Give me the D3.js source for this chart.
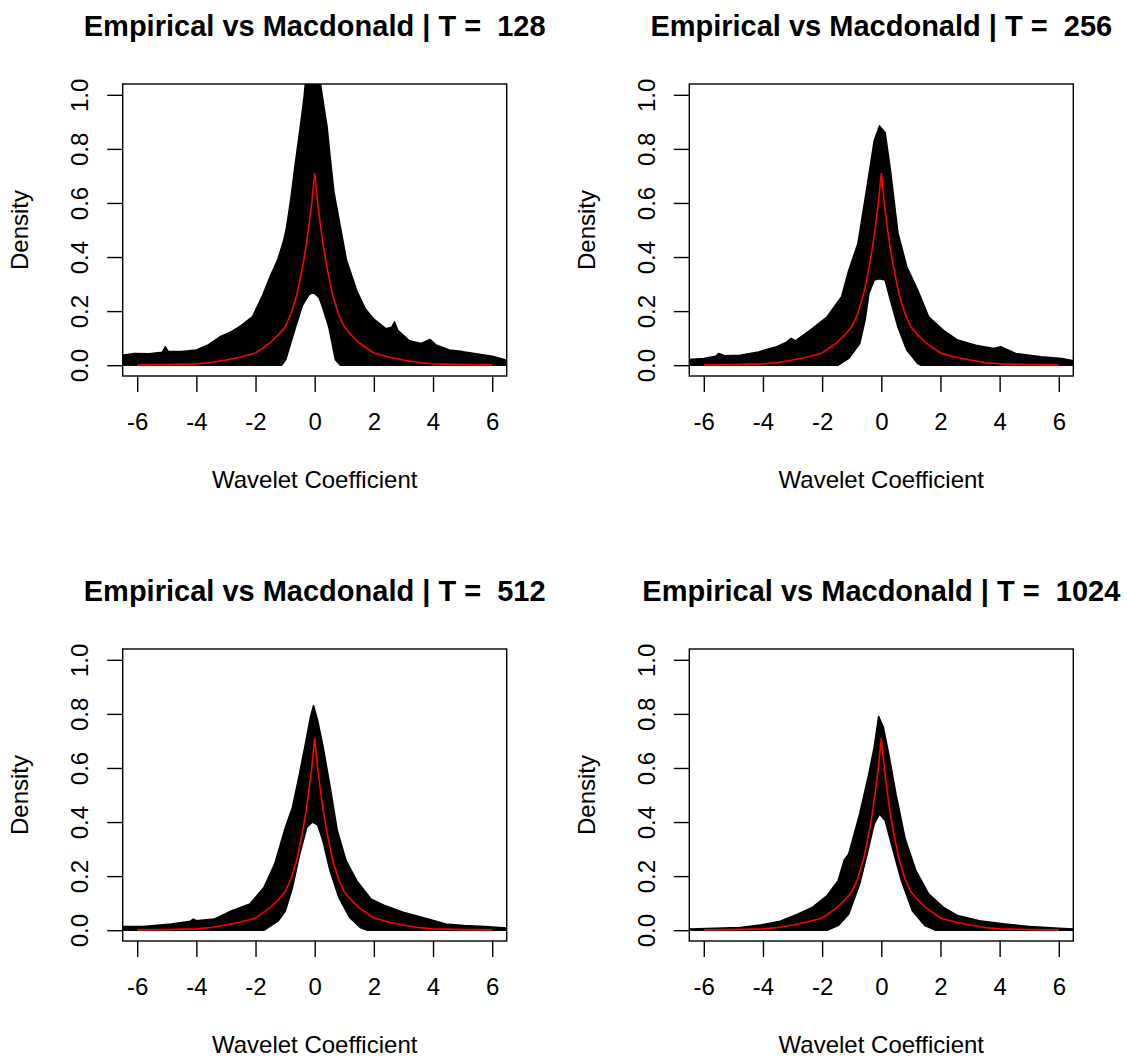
<!DOCTYPE html>
<html>
<head>
<meta charset="utf-8">
<script src="https://cdn.jsdelivr.net/npm/d3@7"></script>
<style>
  html, body { margin: 0; padding: 0; background: #fff; }
  svg { display: block; font-family: "Liberation Sans", Arial, sans-serif; }
</style>
</head>
<body>
<svg id="chart" width="1127" height="1060"></svg>
<script>
// ---------------- data ----------------
const sampleSizes = [128, 256, 512, 1024];
const xTicks = [-6, -4, -2, 0, 2, 4, 6];
const yTicks = [0, 0.2, 0.4, 0.6, 0.8, 1.0];
const xLabel = "Wavelet Coefficient";
const yLabel = "Density";

// Macdonald (theoretical) density, red curve
const macdonald = [
  [-6, 0.001], [-5, 0.002], [-4, 0.005], [-3.5, 0.01], [-3, 0.019], [-2.5, 0.03],
  [-2, 0.045], [-1.5, 0.083], [-1.25, 0.11], [-1, 0.142], [-0.8, 0.19], [-0.6, 0.262],
  [-0.4, 0.37], [-0.3, 0.435], [-0.2, 0.512], [-0.1, 0.6], [0, 0.71],
  [0.1, 0.6], [0.2, 0.512], [0.3, 0.435], [0.4, 0.37], [0.6, 0.262], [0.8, 0.19],
  [1, 0.142], [1.25, 0.11], [1.5, 0.083], [2, 0.045], [2.5, 0.03], [3, 0.019],
  [3.5, 0.01], [4, 0.005], [5, 0.002], [6, 0.001]
];

// Upper / lower envelopes of the bundle of empirical densities
const upper128 = [[-6.49,0.037],[-6.1,0.043],[-5.6,0.042],[-5.15,0.048],[-5.05,0.068],[-4.95,0.05],[-4.5,0.05],[-4.0,0.056],[-3.6,0.075],[-3.2,0.105],[-2.8,0.125],[-2.5,0.145],[-2.1,0.18],[-1.75,0.26],[-1.5,0.33],[-1.25,0.39],[-1.05,0.46],[-0.95,0.51],[-0.8,0.62],[-0.65,0.75],[-0.5,0.87],[-0.36,0.99],[-0.3,1.06],[0.17,1.06],[0.25,1.0],[0.42,0.88],[0.53,0.76],[0.65,0.64],[0.87,0.51],[1.07,0.39],[1.44,0.27],[1.7,0.21],[2.0,0.17],[2.4,0.135],[2.6,0.14],[2.7,0.16],[2.8,0.13],[3.2,0.09],[3.6,0.08],[3.9,0.095],[4.1,0.075],[4.55,0.056],[5.0,0.05],[5.4,0.043],[6.0,0.033],[6.49,0.018]];
const lower128 = [[-1.12,0],[-0.98,0.02],[-0.65,0.14],[-0.42,0.22],[-0.2,0.26],[-0.05,0.27],[0.15,0.25],[0.25,0.22],[0.48,0.14],[0.7,0.02],[0.87,0]];

const upper256 = [[-6.5,0.021],[-6.0,0.025],[-5.6,0.033],[-5.5,0.043],[-5.3,0.035],[-4.77,0.037],[-4.15,0.049],[-3.54,0.068],[-3.2,0.085],[-3.05,0.099],[-2.9,0.09],[-2.32,0.136],[-1.83,0.179],[-1.34,0.253],[-1.1,0.35],[-0.79,0.45],[-0.48,0.66],[-0.24,0.83],[-0.06,0.885],[0.13,0.86],[0.31,0.72],[0.56,0.49],[0.86,0.364],[1.23,0.278],[1.6,0.179],[2.09,0.13],[2.58,0.093],[3.19,0.074],[3.8,0.062],[4.04,0.068],[4.3,0.055],[4.54,0.043],[5.4,0.031],[6.1,0.025],[6.5,0.016]];
const lower256 = [[-1.46,0],[-1.1,0.025],[-0.73,0.08],[-0.55,0.167],[-0.42,0.265],[-0.24,0.315],[-0.06,0.32],[0.13,0.315],[0.31,0.24],[0.56,0.142],[0.86,0.056],[1.23,0.006],[1.35,0]];

const upper512 = [[-6.49,0.013],[-5.8,0.013],[-4.84,0.023],[-4.2,0.033],[-4.1,0.041],[-4.0,0.035],[-3.4,0.041],[-2.8,0.072],[-2.19,0.097],[-1.71,0.159],[-1.35,0.245],[-0.99,0.38],[-0.75,0.455],[-0.51,0.58],[-0.33,0.68],[-0.14,0.79],[-0.04,0.83],[0.1,0.775],[0.28,0.68],[0.52,0.53],[0.76,0.37],[1.06,0.257],[1.42,0.183],[1.9,0.115],[2.39,0.09],[2.99,0.066],[3.83,0.041],[4.43,0.023],[5.04,0.017],[5.76,0.013],[6.49,0.008]];
const lower512 = [[-1.71,0],[-1.23,0.035],[-0.99,0.072],[-0.75,0.159],[-0.51,0.28],[-0.27,0.38],[-0.08,0.40],[0.1,0.39],[0.28,0.33],[0.52,0.22],[0.82,0.12],[1.18,0.047],[1.54,0.01],[1.78,0]];

const upper1024 = [[-6.5,0.004],[-4.77,0.01],[-4.03,0.02],[-3.42,0.033],[-2.81,0.06],[-2.32,0.085],[-1.83,0.128],[-1.46,0.183],[-1.25,0.26],[-1.1,0.282],[-0.73,0.43],[-0.42,0.578],[-0.24,0.677],[-0.09,0.79],[0.07,0.75],[0.25,0.652],[0.5,0.5],[0.8,0.34],[1.17,0.22],[1.6,0.134],[2.09,0.085],[2.58,0.054],[3.31,0.035],[4.17,0.023],[5.02,0.013],[6.0,0.007],[6.5,0.004]];
const lower1024 = [[-1.83,0],[-1.46,0.017],[-1.1,0.06],[-0.73,0.171],[-0.48,0.282],[-0.24,0.393],[-0.06,0.43],[0.13,0.406],[0.37,0.307],[0.68,0.183],[1.05,0.072],[1.47,0.017],[1.84,0]];

const uppers = [upper128, upper256, upper512, upper1024];
const lowers = [lower128, lower256, lower512, lower1024];

// ---------------- layout ----------------
const boxLefts = [122.7, 689.3];
const boxTops = [84, 649];
const boxW = 384, boxH = 292;
const xDomain = [-6.49, 6.49];
const yDomain = [-0.04, 1.04];

const svg = d3.select("#chart");
svg.append("rect").attr("width", 1127).attr("height", 1060).attr("fill", "#fff");

sampleSizes.forEach((T, i) => {
  const col = i % 2, row = Math.floor(i / 2);
  const L = boxLefts[col], Tp = boxTops[row];
  const x = d3.scaleLinear().domain(xDomain).range([L, L + boxW]);
  const y = d3.scaleLinear().domain(yDomain).range([Tp + boxH, Tp]);
  const g = svg.append("g");

  const clipId = "clip" + i;
  svg.append("defs").append("clipPath").attr("id", clipId)
    .append("rect").attr("x", L).attr("y", Tp).attr("width", boxW).attr("height", boxH);

  // black bundle: area between upper envelope and lower envelope (0 in tails)
  const up = uppers[i], lo = lowers[i];
  const poly = up.concat([[xDomain[1] + 0.2, 0]], lo.slice().reverse(), [[xDomain[0] - 0.2, 0]]);
  const line = d3.line().x(d => x(d[0])).y(d => y(d[1]));
  const plot = g.append("g").attr("clip-path", `url(#${clipId})`);
  plot.append("path")
    .attr("d", line(poly) + "Z")
    .attr("fill", "#000")
    .attr("stroke", "#000")
    .attr("stroke-width", 1.6)
    .attr("stroke-linejoin", "round");

  // red Macdonald curve
  plot.append("path")
    .attr("d", line(macdonald))
    .attr("fill", "none")
    .attr("stroke", "#ff0000")
    .attr("stroke-width", 1.6);

  // box
  g.append("rect").attr("x", L).attr("y", Tp).attr("width", boxW).attr("height", boxH)
    .attr("fill", "none").attr("stroke", "#000").attr("stroke-width", 1.4);

  // x axis
  const xa = g.append("g").attr("transform", `translate(0,${Tp + boxH})`)
    .call(d3.axisBottom(x).tickValues(xTicks).tickSize(16).tickSizeOuter(0).tickFormat(d => String(d)));
  xa.select(".domain").remove();
  xa.selectAll(".tick line").attr("stroke", "#000").attr("stroke-width", 1.4);
  xa.selectAll(".tick text").attr("y", 54).attr("dy", null)
    .attr("font-size", 24).attr("fill", "#000")
    .attr("font-family", "'Liberation Sans', Arial, sans-serif");

  // y axis
  const ya = g.append("g").attr("transform", `translate(${L},0)`)
    .call(d3.axisLeft(y).tickValues(yTicks).tickSize(15.5).tickSizeOuter(0).tickFormat(d3.format(".1f")));
  ya.select(".domain").remove();
  ya.selectAll(".tick line").attr("stroke", "#000").attr("stroke-width", 1.4);
  ya.selectAll(".tick text")
    .attr("x", 0).attr("y", -34.5).attr("dy", null)
    .attr("transform", "rotate(-90)")
    .attr("text-anchor", "middle")
    .attr("font-size", 24).attr("fill", "#000")
    .attr("font-family", "'Liberation Sans', Arial, sans-serif");

  const cx = L + boxW / 2, cy = Tp + boxH / 2;
  // title
  g.append("text").attr("x", cx).attr("y", Tp - 48)
    .attr("text-anchor", "middle").attr("font-size", 29).attr("font-weight", "bold")
    .style("white-space", "pre").attr("fill", "#000")
    .text("Empirical vs Macdonald | T =  " + T);
  // x label
  g.append("text").attr("x", cx).attr("y", Tp + boxH + 111.5)
    .attr("text-anchor", "middle").attr("font-size", 24).attr("fill", "#000")
    .text(xLabel);
  // y label
  g.append("text").attr("transform", `translate(${L - 94.7},${cy}) rotate(-90)`)
    .attr("text-anchor", "middle").attr("font-size", 24).attr("fill", "#000")
    .text(yLabel);
});
</script>
</body>
</html>
